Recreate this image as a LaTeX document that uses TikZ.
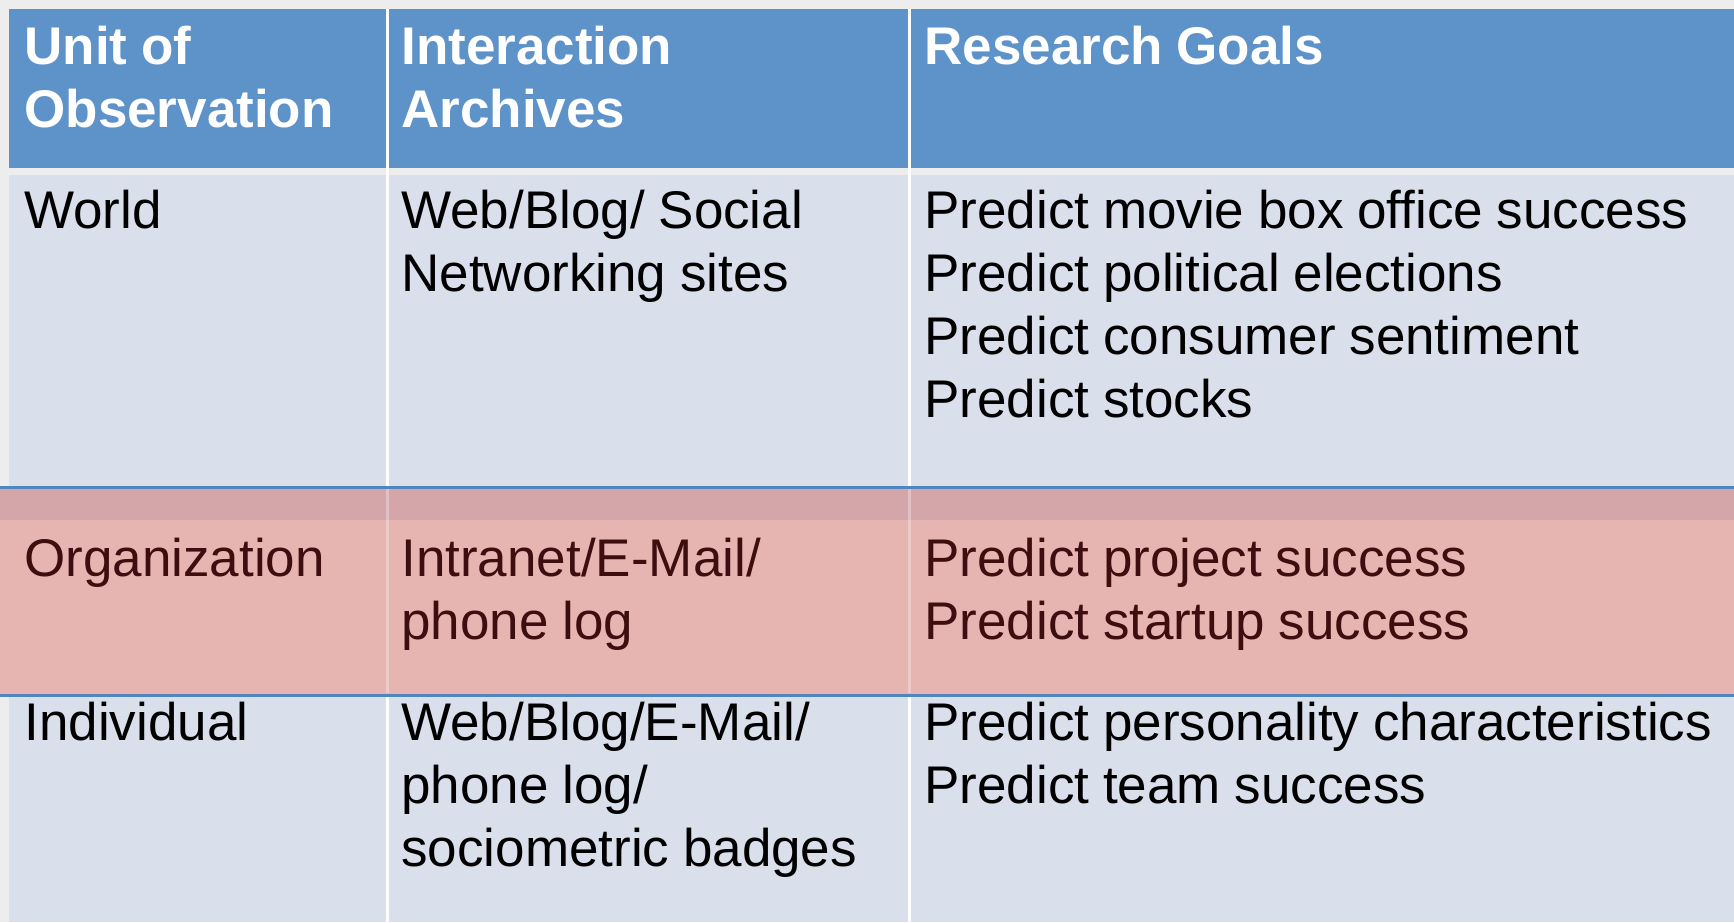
\documentclass[tikz,border=0pt]{standalone}
\usepackage{fontspec}
\setmainfont{Liberation Sans}
\usetikzlibrary{positioning}

\definecolor{headblue}{HTML}{5E93C9}
\definecolor{bodygray}{HTML}{D9DFEB}
\definecolor{bandpink}{HTML}{E6B5B1}
\definecolor{bandshade}{HTML}{D4A6AA}
\definecolor{lineblue}{HTML}{4F86C0}
\definecolor{pinktext}{HTML}{3D0E10}
\definecolor{backgray}{HTML}{EDEDED}

\def\colone{387}
\def\coltwo{909}

\begin{document}
\begin{tikzpicture}[x=0.5pt,y=-0.5pt]
    \tikzstyle{cell}=[anchor=base west,inner sep=0pt,align=left,font=\fontsize{26.5}{31.5}\selectfont,
        execute at begin node={\spaceskip=0.26em\relax}]
    \tikzstyle{head}=[cell,text=white,font=\fontsize{26.5}{31.5}\selectfont\bfseries]
    \tikzstyle{sep}=[white,line width=1.5pt]
    \tikzstyle{rule}=[lineblue,line width=1.5pt]

    \useasboundingbox (0,0) rectangle (1734,922);
    \fill[backgray] (0,0) rectangle (1734,922);

    % header and body
    \fill[headblue] (9,9) rectangle (1734,168);
    \fill[bodygray] (9,175) rectangle (1734,922);
    \draw[sep] (\colone,9) -- (\colone,922);
    \draw[sep] (\coltwo,9) -- (\coltwo,922);

    % highlighted row
    \fill[bandpink] (0,487) rectangle (1734,695);
    \fill[bandshade] (0,489) rectangle (1734,520);
    \draw[white,opacity=0.3,line width=1.5pt] (\colone,489) -- (\colone,693);
    \draw[white,opacity=0.3,line width=1.5pt] (\coltwo,489) -- (\coltwo,693);
    \draw[rule] (0,487) -- (1734,487);
    \draw[rule] (0,695) -- (1734,695);

    \node[head,text width=180pt] (hd-1) at (24,64) {Unit of\\Observation};
    \node[head,text width=250pt] (hd-2) at (401,64) {Interaction\\Archives};
    \node[head,text width=400pt] (hd-3) at (924,64) {Research Goals};

    \node[cell,text width=180pt] (w-1) at (24,228) {World};
    \node[cell,text width=250pt] (w-2) at (401,228) {Web/Blog/ Social\\Networking sites};
    \node[cell,text width=400pt] (w-3) at (924,228) {Predict movie box office success\\Predict political elections\\Predict consumer sentiment\\Predict stocks};

    \node[cell,text=pinktext,text width=180pt] (o-1) at (24,576) {Organization};
    \node[cell,text=pinktext,text width=250pt] (o-2) at (401,576) {Intranet/E-Mail/\\phone log};
    \node[cell,text=pinktext,text width=400pt] (o-3) at (924,576) {Predict project success\\Predict startup success};

    \node[cell,text width=180pt] (i-1) at (24,740) {Individual};
    \node[cell,text width=250pt] (i-2) at (401,740) {Web/Blog/E-Mail/\\phone log/\\sociometric badges};
    \node[cell,text width=400pt] (i-3) at (924,740) {Predict personality characteristics\\Predict team success};

\end{tikzpicture}
\end{document}
